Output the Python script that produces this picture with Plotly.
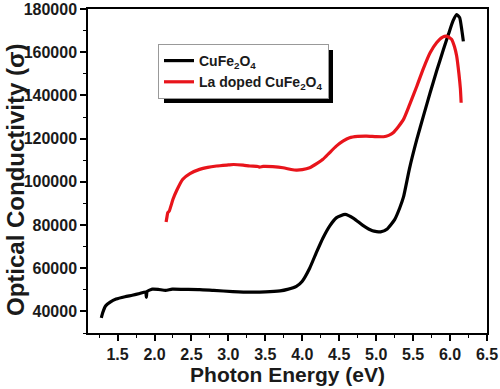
import plotly.graph_objects as go

# CuFe2O4 (black)
cu_x = [1.28, 1.30, 1.34, 1.40, 1.48, 1.60, 1.70, 1.80, 1.88, 1.89, 1.90, 1.97, 2.05, 2.15,
        2.24, 2.40, 2.61, 2.80, 3.06, 3.29, 3.50, 3.70, 3.80, 3.92, 4.00, 4.10, 4.19, 4.28,
        4.37, 4.46, 4.58, 4.70, 4.82, 4.95, 5.06, 5.15, 5.25, 5.32, 5.37, 5.45, 5.55, 5.64,
        5.73, 5.82, 5.91, 5.98, 6.04, 6.09, 6.13, 6.16, 6.18]
cu_y = [37000, 39500, 42600, 44300, 45700, 46800, 47500, 48300, 49000, 46500, 49200, 50300,
        50200, 49700, 50300, 50200, 50100, 49700, 49200, 48900, 49000, 49500, 50200, 51600,
        54000, 60000, 67200, 74000, 79500, 83300, 84900, 83000, 79800, 77300, 76800, 78200,
        82500, 88000, 93000, 106000, 119600, 130500, 141200, 151500, 161200, 168500, 174500,
        177400, 176000, 170000, 165000]

# La doped CuFe2O4 (red)
la_x = [2.157, 2.17, 2.18, 2.20, 2.25, 2.30, 2.38, 2.48, 2.61, 2.72, 2.84, 3.00, 3.07, 3.20,
        3.29, 3.40, 3.42, 3.47, 3.60, 3.74, 3.85, 3.92, 4.00, 4.10, 4.20, 4.28, 4.37, 4.46,
        4.55, 4.64, 4.75, 4.87, 5.00, 5.10, 5.17, 5.23, 5.30, 5.37, 5.45, 5.55, 5.64, 5.73,
        5.82, 5.90, 5.96, 6.02, 6.06, 6.09, 6.12, 6.14, 6.15]
la_y = [81400, 84000, 85750, 86500, 91900, 96000, 101100, 103800, 105750, 106700, 107300,
        107800, 108000, 107700, 107300, 107100, 106800, 107100, 107000, 106500, 105700, 105400,
        105600, 106500, 108500, 110400, 113500, 116500, 118800, 120400, 121000, 121150, 120900,
        120870, 121500, 122700, 125500, 128900, 135500, 144250, 152500, 159700, 164500, 167000,
        167350, 166000, 162500, 158100, 150000, 143000, 136600]

x_ticks = [1.5, 2.0, 2.5, 3.0, 3.5, 4.0, 4.5, 5.0, 5.5, 6.0, 6.5]
y_ticks = [40000, 60000, 80000, 100000, 120000, 140000, 160000, 180000]

FONT = "Liberation Sans, Arial, sans-serif"
TXT = "#1a1a1a"

fig = go.Figure()
fig.add_trace(go.Scatter(x=cu_x, y=cu_y, mode="lines", name="<b>CuFe<sub>2</sub>O<sub>4</sub></b>",
                         line=dict(color="black", width=3.2, shape="spline", smoothing=0.5)))
fig.add_trace(go.Scatter(x=la_x, y=la_y, mode="lines", name="<b>La doped CuFe<sub>2</sub>O<sub>4</sub></b>",
                         line=dict(color="#e8141b", width=3.2, shape="spline", smoothing=0.5)))

L, R, T, B = 88, 13, 9, 56
pw, ph = 500 - L - R, 389 - T - B

def px(x):
    return (x - L) / pw

def py(y):
    return (389 - B - y) / ph

# legend shadow
fig.add_shape(type="rect", xref="paper", yref="paper",
              x0=px(164), x1=px(333), y0=py(103), y1=py(50),
              fillcolor="black", line=dict(width=0), layer="above")

# y-axis title
fig.add_annotation(text="<b>Optical Conductivity (σ)</b>", xref="paper", yref="paper",
                   x=px(15), y=py(180), xanchor="center", yanchor="middle", textangle=-90,
                   showarrow=False, font=dict(size=24, family=FONT, color=TXT))

fig.update_layout(
    width=500, height=389,
    margin=dict(l=L, r=R, t=T, b=B),
    paper_bgcolor="white", plot_bgcolor="white",
    font=dict(family=FONT, color=TXT),
    showlegend=True,
    legend=dict(x=px(158), y=py(44), xanchor="left", yanchor="top",
                bgcolor="white", bordercolor="#999999", borderwidth=1,
                font=dict(size=14, family=FONT, color=TXT),
                itemwidth=30, tracegroupgap=0),
    xaxis=dict(range=[1.1, 6.5], tickvals=x_ticks, ticktext=[f"<b>{v:.1f}</b>" for v in x_ticks],
               ticks="outside", ticklen=6, tickwidth=1.5, tickcolor="black",
               showline=True, linecolor="black", linewidth=1.5, mirror=True,
               showgrid=False, zeroline=False,
               minor=dict(dtick=0.25, tick0=1.0, ticks="outside", ticklen=3.5, tickwidth=1.2, tickcolor="black", showgrid=False),
               tickfont=dict(size=16, family=FONT, color=TXT),
               title=dict(text="<b>Photon Energy (eV)</b>", font=dict(size=21, family=FONT, color=TXT), standoff=5),
               automargin=False),
    yaxis=dict(range=[30000, 180000], tickvals=y_ticks, ticktext=[f"<b>{v}</b>" for v in y_ticks],
               ticks="outside", ticklen=6, tickwidth=1.5, tickcolor="black",
               showline=True, linecolor="black", linewidth=1.5, mirror=True,
               showgrid=False, zeroline=False,
               minor=dict(dtick=10000, tick0=0, ticks="outside", ticklen=3.5, tickwidth=1.2, tickcolor="black", showgrid=False),
               tickfont=dict(size=16, family=FONT, color=TXT),
               automargin=False),
)

fig.write_html("out.html", config={"displayModeBar": False},
               post_script="document.body.style.margin='0';document.body.style.overflow='hidden';")
